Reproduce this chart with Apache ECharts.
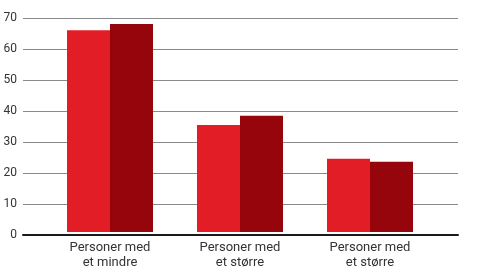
<!DOCTYPE html>
<html><head><meta charset="utf-8">
<script src="https://cdn.jsdelivr.net/npm/echarts@6/dist/echarts.min.js"></script>
<style>html,body{margin:0;padding:0;background:#fff}#c{width:480px;height:270px}</style>
</head><body><div id="c"></div>
<script>
const categories = ['Personer med\net mindre', 'Personer med\net større', 'Personer med\net større'];
const seriesA = [66, 35, 24];
const seriesB = [68, 38, 23];
const yTicks = {min: 0, max: 70, interval: 10};

const chart = echarts.init(document.getElementById('c'), null, {renderer: 'canvas'});
const font = 'Roboto, sans-serif';
chart.setOption({
  animation: false,
  grid: [
    {left: 45, right: 45, top: 18, bottom: 35},
    {left: 23, right: 22, top: 18, bottom: 35}
  ],
  xAxis: [
    {type: 'category', gridIndex: 0, data: categories,
     axisLine: {show: false}, axisTick: {show: false},
     axisLabel: {color: '#333', fontSize: 13, fontFamily: font, lineHeight: 15, margin: 8}},
    {type: 'value', gridIndex: 1, min: 0, max: 1,
     axisLine: {show: true, onZero: false, lineStyle: {color: '#1a1a1a', width: 2}},
     axisTick: {show: false}, axisLabel: {show: false}, splitLine: {show: false}}
  ],
  yAxis: [
    {type: 'value', gridIndex: 0, min: yTicks.min, max: yTicks.max, interval: yTicks.interval,
     axisLine: {show: false}, axisTick: {show: false}, axisLabel: {show: false}, splitLine: {show: false}},
    {type: 'value', gridIndex: 1, min: yTicks.min, max: yTicks.max, interval: yTicks.interval,
     axisLine: {show: false}, axisTick: {show: false},
     axisLabel: {color: '#333', fontSize: 12, fontFamily: font, margin: 6},
     splitLine: {show: true, lineStyle: {color: '#8a8a8a', width: 1}}}
  ],
  series: [
    {type: 'bar', xAxisIndex: 0, yAxisIndex: 0, data: seriesA, barWidth: 43, barGap: '0%',
     itemStyle: {color: '#e31d25'}},
    {type: 'bar', xAxisIndex: 0, yAxisIndex: 0, data: seriesB, barWidth: 43, barGap: '0%',
     itemStyle: {color: '#96050b'}}
  ]
});
</script></body></html>
